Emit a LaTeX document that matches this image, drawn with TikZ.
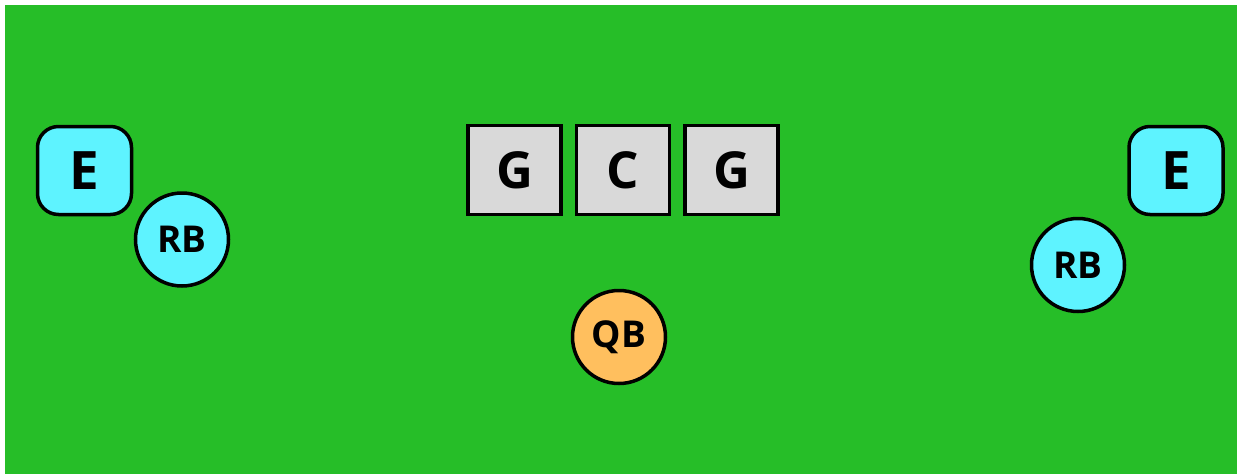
\documentclass[tikz,border=0pt]{standalone}
\usepackage{fontspec}
\setmainfont{Open Sans}
\definecolor{field}{HTML}{26BE28}
\definecolor{cyanp}{HTML}{5EF3FF}
\definecolor{qbcol}{HTML}{FFBF5E}
\definecolor{linem}{HTML}{D9D9D9}
\begin{document}
\begin{tikzpicture}[x=1pt,y=-1pt,
  endbox/.style={draw=black,line width=3.5pt,fill=cyanp,rounded corners=21pt,minimum width=94pt,minimum height=88pt,inner sep=0pt,font=\bfseries\fontsize{53}{53}\selectfont},
  back/.style={circle,draw=black,line width=3.5pt,fill=cyanp,minimum size=93pt,inner sep=0pt,font=\bfseries\fontsize{37}{37}\selectfont},
  qback/.style={back,fill=qbcol},
  lineman/.style={draw=black,line width=3.5pt,fill=linem,minimum width=93pt,minimum height=89pt,inner sep=0pt,font=\bfseries\fontsize{51}{51}\selectfont}]
\useasboundingbox (0,0) rectangle (1237,474);
\fill[white] (0,0) rectangle (1237,474);
\fill[field] (5,5) rectangle (1237,474);
\node[endbox] (el) at (84.5,170.5) {E};
\node[endbox] (er) at (1176,170.5) {E};
\node[back] (rbl) at (182,239.5) {RB};
\node[back] (rbr) at (1078,265) {RB};
\node[lineman] (g1) at (514.5,170) {G};
\node[lineman] (c) at (623,170) {C};
\node[lineman] (g2) at (731.5,170) {G};
\node[qback] (qb) at (619,337) {QB};
\end{tikzpicture}
\end{document}
